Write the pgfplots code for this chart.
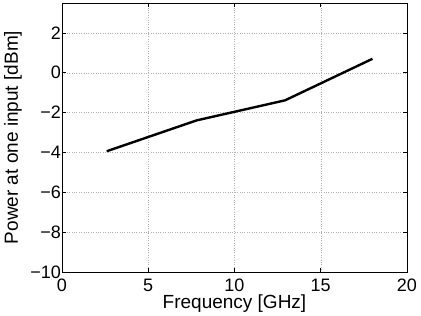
\documentclass[border=0pt]{standalone}
\usepackage{pgfplots}
\pgfplotsset{compat=1.18}
\usepackage{fontspec}
\setmainfont{Liberation Sans}
\begin{document}
\fontsize{18}{20}\selectfont
\begin{tikzpicture}
\begin{axis}[
  scale only axis,
  width=345pt, height=269pt,
  xmin=0, xmax=20, ymin=-10, ymax=3.5,
  xtick={0,5,10,15,20}, ytick={-10,-8,-6,-4,-2,0,2},
  xticklabels={0,5,10,15,20},
  yticklabels={−10,−8,−6,−4,−2,0,2},
  tick align=inside,
  major tick length=4pt,
  grid=major,
  major grid style={dotted, gray!60},
  axis line style={black, line width=0.8pt},
  every tick/.style={black, line width=0.5pt},
  xlabel={Frequency [GHz]},
  ylabel={Power at one input [dBm]},
  yticklabel style={xshift=5pt},
  xticklabel style={yshift=-1pt},
  xlabel style={at={([yshift=-37pt]rel axis cs:0.5,0)}, anchor=base},
  ylabel style={at={([xshift=-49pt]rel axis cs:0,0.5)}, anchor=center, rotate=0},
  tick label style={font=\fontsize{18}{20}\selectfont},
  label style={font=\fontsize{19}{21}\selectfont},
]
\addplot[black, line width=2.4pt] coordinates {
(2.59,-3.94) (7.81,-2.39) (12.93,-1.385) (18.0,0.70)
};
\coordinate (ll) at (rel axis cs:0,0);
\coordinate (ur) at (rel axis cs:1,1);
\end{axis}
\pgfresetboundingbox
\useasboundingbox ([shift={(-62pt,-44pt)}]ll) rectangle ([shift={(14pt,3pt)}]ur);
\end{tikzpicture}
\end{document}
